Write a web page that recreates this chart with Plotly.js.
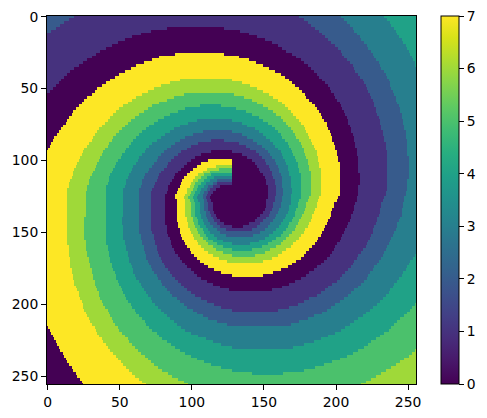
<!DOCTYPE html>
<html>
<head>
<meta charset="utf-8">
<script src="https://cdn.plot.ly/plotly-3.0.1.min.js"></script>
<style>html,body{margin:0;padding:0;background:#fff}#chart{width:487px;height:418px}</style>
</head>
<body>
<div id="chart"></div>
<script>
// Each row reads "value:endColumn" runs; the last run goes to the right edge.
const rowRuns = [
"2:19,1:175,2:204,3:234,4",
"2:15,1:178,2:206,3:236,4",
"2:12,1:181,2:208,3:238,4",
"2:9,1:183,2:210,3:239,4",
"2:6,1:83,0:123,1:186,2:212,3:241,4",
"2:3,1:72,0:134,1:189,2:213,3:242,4",
"1:65,0:140,1:191,2:215,3:243,4",
"1:59,0:146,1:193,2:217,3:244,4",
"1:54,0:151,1:195,2:218,3:246,4",
"1:49,0:156,1:197,2:220,3:247,4",
"1:45,0:160,1:200,2:222,3:249,4",
"1:41,0:163,1:202,2:223,3:250,4",
"1:37,0:166,1:204,2:225,3:251,4",
"1:34,0:89,7:123,0:170,1:205,2:226,3:252,4",
"1:31,0:78,7:133,0:173,1:206,2:227,3:253,4",
"1:28,0:73,7:140,0:176,1:208,2:228,3:254,4",
"1:25,0:67,7:145,0:178,1:210,2:230,3:255,4",
"1:22,0:62,7:150,0:181,1:212,2:231,3:255,4",
"1:19,0:58,7:154,0:183,1:213,2:232,3",
"1:16,0:54,7:158,0:185,1:214,2:234,3",
"1:14,0:50,7:162,0:187,1:216,2:235,3",
"1:12,0:47,7:165,0:189,1:217,2:236,3",
"1:10,0:44,7:92,6:128,7:168,0:191,1:219,2:237,3",
"1:8,0:41,7:85,6:135,7:170,0:193,1:220,2:238,3",
"1:6,0:38,7:79,6:141,7:172,0:195,1:221,2:238,3",
"1:4,0:35,7:74,6:146,7:175,0:196,1:222,2:239,3",
"1:2,0:33,7:70,6:150,7:177,0:197,1:223,2:240,3",
"0:31,7:66,6:95,5:130,6:154,7:179,0:199,1:224,2:241,3",
"0:28,7:62,6:88,5:137,6:157,7:180,0:200,1:225,2:242,3",
"0:26,7:59,6:83,5:142,6:160,7:182,0:201,1:226,2:242,3",
"0:24,7:56,6:78,5:146,6:163,7:184,0:203,1:227,2:243,3",
"0:22,7:53,6:73,5:106,4:121,5:150,6:165,7:186,0:204,1:227,2:244,3",
"0:20,7:50,6:70,5:96,4:131,5:153,6:167,7:187,0:205,1:228,2:245,3",
"0:18,7:48,6:67,5:91,4:138,5:157,6:169,7:189,0:206,1:228,2:245,3",
"0:17,7:46,6:64,5:85,4:142,5:159,6:171,7:190,0:207,1:229,2:246,3",
"0:15,7:44,6:61,5:81,4:147,5:162,6:173,7:191,0:208,1:230,2:246,3",
"0:14,7:42,6:58,5:77,4:104,3:128,4:150,5:164,6:175,7:192,0:209,1:231,2:247,3",
"0:13,7:40,6:56,5:74,4:98,3:135,4:153,5:166,6:176,7:194,0:209,1:231,2:247,3",
"0:11,7:38,6:54,5:71,4:92,3:139,4:156,5:167,6:178,7:194,0:210,1:232,2:248,3",
"0:10,7:36,6:52,5:69,4:88,3:144,4:158,5:169,6:179,7:195,0:211,1:232,2:248,3",
"0:8,7:35,6:50,5:66,4:85,3:108,2:128,3:147,4:160,5:171,6:180,7:196,0:211,1:233,2:249,3",
"0:7,7:33,6:48,5:64,4:82,3:101,2:135,3:150,4:162,5:172,6:181,7:197,0:212,1:233,2:249,3",
"0:5,7:32,6:46,5:62,4:79,3:96,2:139,3:152,4:163,5:173,6:182,7:198,0:213,1:234,2:249,3",
"0:4,7:31,6:45,5:60,4:76,3:92,2:114,1:123,2:143,3:155,4:165,5:175,6:183,7:198,0:213,1:234,2:250,3",
"0:3,7:29,6:43,5:58,4:73,3:89,2:105,1:133,2:146,3:157,4:167,5:176,6:184,7:199,0:214,1:235,2:250,3",
"0:2,7:28,6:42,5:57,4:71,3:86,2:100,1:138,2:149,3:158,4:168,5:177,6:185,7:200,0:214,1:235,2:250,3",
"0:1,7:26,6:40,5:55,4:69,3:83,2:97,1:141,2:151,3:160,4:169,5:178,6:186,7:200,0:215,1:235,2:250,3",
"7:25,6:39,5:54,4:68,3:81,2:93,1:114,0:128,1:145,2:153,3:162,4:170,5:178,6:187,7:201,0:215,1:236,2:250,3",
"7:24,6:38,5:52,4:66,3:79,2:91,1:107,0:135,1:147,2:155,3:163,4:171,5:179,6:187,7:201,0:215,1:236,2:250,3",
"7:23,6:37,5:51,4:64,3:77,2:88,1:103,0:139,1:149,2:156,3:164,4:172,5:180,6:188,7:202,0:216,1:236,2:251,3",
"7:22,6:36,5:49,4:63,3:76,2:86,1:100,0:112,7:128,0:142,1:151,2:158,3:165,4:173,5:181,6:188,7:202,0:216,1:236,2:251,3",
"7:21,6:35,5:48,4:62,3:74,2:84,1:97,0:107,7:128,0:144,1:152,2:159,3:166,4:174,5:181,6:189,7:203,0:216,1:236,2:251,3",
"7:20,6:34,5:47,4:60,3:73,2:83,1:95,0:104,7:117,6:128,0:146,1:154,2:160,3:167,4:174,5:182,6:189,7:203,0:216,1:236,2:251,3",
"7:19,6:33,5:46,4:59,3:71,2:81,1:93,0:101,7:111,6:119,5:128,0:147,1:155,2:161,3:167,4:175,5:182,6:190,7:203,0:216,1:236,2:251,3",
"7:18,6:32,5:45,4:58,3:70,2:79,1:91,0:99,7:108,6:113,5:128,0:148,1:156,2:161,3:168,4:175,5:183,6:190,7:203,0:216,1:236,2:251,3",
"7:18,6:31,5:44,4:57,3:68,2:78,1:89,0:97,7:105,6:109,5:114,4:128,0:150,1:156,2:162,3:168,4:176,5:183,6:190,7:203,0:217,1:236,2:251,3",
"7:17,6:30,5:43,4:56,3:67,2:77,1:88,0:95,7:103,6:107,5:111,4:116,3:128,0:151,1:157,2:163,3:169,4:176,5:183,6:190,7:203,0:217,1:236,2:251,3",
"7:16,6:29,5:43,4:55,3:66,2:76,1:87,0:94,7:101,6:105,5:109,4:113,3:118,2:128,0:152,1:158,2:163,3:169,4:176,5:183,6:190,7:203,0:217,1:236,2:250,3",
"7:15,6:29,5:42,4:55,3:66,2:75,1:85,0:93,7:100,6:103,5:107,4:110,3:115,2:118,1:128,0:152,1:158,2:163,3:169,4:176,5:183,6:190,7:203,0:217,1:236,2:250,3",
"7:15,6:28,5:41,4:54,3:65,2:74,1:84,0:92,7:99,6:102,5:105,4:109,3:112,2:115,1:120,0:153,1:159,2:163,3:169,4:176,5:183,6:190,7:203,0:216,1:236,2:250,3",
"7:14,6:28,5:41,4:53,3:64,2:73,1:84,0:91,7:97,6:101,5:104,4:107,3:111,2:113,1:117,0:153,1:159,2:164,3:170,4:176,5:183,6:190,7:203,0:216,1:236,2:250,3",
"7:14,6:27,5:41,4:53,3:64,2:72,1:83,0:90,7:97,6:100,5:103,4:106,3:109,2:112,1:115,0:153,1:159,2:164,3:170,4:176,5:183,6:190,7:203,0:216,1:235,2:249,3",
"7:14,6:27,5:41,4:53,3:64,2:72,1:82,0:89,7:96,6:99,5:102,4:105,3:108,2:111,1:114,0:153,1:159,2:164,3:169,4:176,5:183,6:190,7:203,0:216,1:235,2:249,3",
"7:14,6:27,5:41,4:53,3:64,2:72,1:82,0:89,7:95,6:98,5:101,4:104,3:108,2:110,1:113,0:153,1:158,2:163,3:169,4:176,5:182,6:189,7:202,0:215,1:234,2:248,3",
"7:14,6:27,5:41,4:53,3:64,2:72,1:82,0:90,7:96,6:99,5:102,4:105,3:109,2:111,1:114,0:152,1:158,2:163,3:169,4:175,5:181,6:188,7:201,0:215,1:233,2:248,3",
"7:14,6:27,5:41,4:53,3:64,2:72,1:82,0:90,7:96,6:100,5:103,4:106,3:109,2:112,1:115,0:152,1:157,2:162,3:169,4:174,5:180,6:187,7:199,0:214,1:232,2:247,3",
"7:14,6:27,5:41,4:53,3:64,2:72,1:82,0:90,7:96,6:100,5:103,4:106,3:109,2:112,1:115,0:152,1:157,2:162,3:168,4:174,5:180,6:187,7:199,0:213,1:232,2:247,3",
"7:14,6:27,5:41,4:53,3:64,2:72,1:82,0:90,7:96,6:100,5:103,4:106,3:109,2:112,1:115,0:151,1:156,2:161,3:168,4:173,5:179,6:186,7:198,0:213,1:231,2:246,3",
"7:14,6:27,5:41,4:53,3:64,2:72,1:82,0:90,7:96,6:100,5:103,4:106,3:110,2:113,1:116,0:150,1:155,2:160,3:167,4:172,5:178,6:185,7:197,0:212,1:231,2:246,3",
"7:14,6:27,5:41,4:53,3:64,2:72,1:82,0:90,7:96,6:100,5:103,4:107,3:110,2:114,1:117,0:148,1:154,2:159,3:166,4:172,5:177,6:184,7:197,0:211,1:230,2:246,3",
"7:14,6:26,5:41,4:52,3:64,2:72,1:82,0:90,7:97,6:101,5:104,4:107,3:111,2:115,1:118,0:146,1:152,2:158,3:165,4:171,5:176,6:184,7:196,0:211,1:229,2:245,3",
"7:14,6:26,5:41,4:52,3:64,2:72,1:82,0:90,7:97,6:101,5:105,4:108,3:112,2:116,1:120,0:144,1:150,2:157,3:164,4:170,5:175,6:183,7:195,0:210,1:229,2:244,3",
"7:14,6:26,5:41,4:52,3:64,2:72,1:82,0:91,7:98,6:102,5:105,4:109,3:113,2:118,1:123,0:140,1:148,2:155,3:162,4:168,5:174,6:182,7:194,0:209,1:228,2:243,3",
"7:14,6:26,5:41,4:53,3:64,2:72,1:83,0:91,7:98,6:103,5:106,4:110,3:115,2:120,1:128,0:136,1:146,2:153,3:161,4:167,5:173,6:181,7:193,0:208,1:227,2:243,3",
"7:14,6:26,5:41,4:53,3:64,2:72,1:83,0:92,7:99,6:104,5:108,4:112,3:118,2:124,1:142,2:151,3:159,4:166,5:172,6:179,7:192,0:207,1:226,2:242,3",
"7:14,6:26,5:41,4:53,3:64,2:73,1:83,0:92,7:100,6:105,5:109,4:113,3:120,2:148,3:157,4:164,5:170,6:178,7:191,0:206,1:226,2:241,3",
"7:14,6:26,5:41,4:53,3:65,2:74,1:84,0:93,7:101,6:106,5:110,4:116,3:124,2:143,3:154,4:162,5:168,6:176,7:190,0:205,1:225,2:240,3",
"7:14,6:26,5:41,4:53,3:65,2:74,1:85,0:94,7:102,6:108,5:112,4:118,3:151,4:159,5:166,6:175,7:188,0:204,1:224,2:239,3",
"7:14,6:27,5:41,4:54,3:66,2:75,1:86,0:95,7:104,6:110,5:115,4:122,3:147,4:156,5:164,6:173,7:187,0:203,1:223,2:238,3",
"7:14,6:27,5:41,4:54,3:66,2:75,1:86,0:96,7:105,6:112,5:118,4:128,3:141,4:153,5:162,6:171,7:186,0:201,1:222,2:237,3",
"7:15,6:27,5:42,4:55,3:67,2:76,1:87,0:97,7:107,6:115,5:122,4:149,5:159,6:169,7:184,0:200,1:221,2:236,3",
"7:15,6:27,5:42,4:55,3:67,2:76,1:88,0:99,7:109,6:117,5:128,4:142,5:155,6:166,7:182,0:199,1:219,2:235,3",
"7:15,6:28,5:43,4:56,3:68,2:77,1:89,0:100,7:112,6:122,5:151,6:163,7:180,0:198,1:218,2:234,3",
"7:15,6:28,5:43,4:56,3:69,2:78,1:91,0:102,7:115,6:128,5:144,6:160,7:178,0:196,1:216,2:233,3:255,4",
"7:16,6:29,5:44,4:57,3:69,2:79,1:92,0:104,7:119,6:156,7:176,0:194,1:215,2:232,3:254,4",
"7:16,6:29,5:44,4:57,3:70,2:80,1:94,0:106,7:125,6:150,7:173,0:192,1:213,2:230,3:252,4",
"7:16,6:30,5:45,4:58,3:71,2:81,1:96,0:109,7:170,0:190,1:212,2:229,3:251,4",
"7:16,6:30,5:45,4:59,3:72,2:82,1:97,0:112,7:167,0:187,1:211,2:227,3:250,4",
"7:17,6:31,5:46,4:60,3:73,2:84,1:100,0:116,7:162,0:185,1:209,2:226,3:249,4",
"7:17,6:31,5:47,4:60,3:74,2:85,1:102,0:121,7:157,0:182,1:207,2:224,3:247,4",
"7:18,6:32,5:48,4:61,3:76,2:87,1:104,0:128,7:150,0:180,1:205,2:223,3:246,4",
"7:18,6:32,5:48,4:62,3:77,2:89,1:107,0:176,1:203,2:222,3:244,4",
"7:19,6:33,5:49,4:64,3:79,2:91,1:111,0:172,1:201,2:220,3:243,4",
"7:19,6:33,5:50,4:65,3:80,2:93,1:115,0:168,1:198,2:218,3:241,4",
"7:20,6:34,5:51,4:66,3:82,2:95,1:120,0:163,1:195,2:216,3:240,4",
"7:21,6:35,5:52,4:67,3:83,2:97,1:126,0:156,1:193,2:213,3:238,4",
"7:22,6:36,5:53,4:69,3:85,2:100,1:190,2:211,3:237,4",
"7:22,6:36,5:54,4:70,3:87,2:103,1:187,2:209,3:235,4",
"7:23,6:37,5:55,4:72,3:90,2:107,1:182,2:206,3:233,4",
"7:24,6:38,5:56,4:73,3:92,2:111,1:178,2:203,3:231,4",
"7:25,6:39,5:58,4:75,3:95,2:116,1:174,2:200,3:229,4:255,5",
"7:25,6:40,5:59,4:77,3:97,2:121,1:168,2:197,3:226,4:253,5",
"7:26,6:42,5:61,4:79,3:101,2:128,1:160,2:194,3:224,4:252,5",
"7:27,6:43,5:62,4:81,3:104,2:191,3:221,4:250,5",
"7:28,6:44,5:64,4:83,3:108,2:185,3:219,4:248,5",
"7:29,6:45,5:66,4:85,3:112,2:181,3:216,4:245,5",
"7:30,6:46,5:68,4:88,3:118,2:175,3:213,4:243,5",
"7:31,6:47,5:69,4:90,3:125,2:169,3:210,4:241,5",
"0:1,7:33,6:49,5:71,4:93,3:207,4:239,5",
"0:2,7:34,6:50,5:73,4:96,3:204,4:237,5",
"0:3,7:35,6:52,5:76,4:100,3:200,4:234,5",
"0:4,7:36,6:54,5:78,4:105,3:195,4:231,5",
"0:5,7:38,6:56,5:80,4:110,3:190,4:228,5",
"0:6,7:39,6:57,5:83,4:115,3:185,4:225,5",
"0:7,7:41,6:59,5:86,4:121,3:178,4:223,5",
"0:8,7:42,6:61,5:89,4:128,3:171,4:220,5",
"0:9,7:44,6:63,5:92,4:216,5:255,6",
"0:11,7:46,6:65,5:96,4:212,5:253,6",
"0:12,7:48,6:68,5:100,4:208,5:251,6",
"0:13,7:49,6:70,5:104,4:203,5:248,6",
"0:14,7:51,6:72,5:109,4:198,5:245,6",
"0:15,7:53,6:74,5:114,4:192,5:242,6",
"0:17,7:55,6:77,5:121,4:186,5:239,6",
"0:18,7:57,6:80,5:128,4:178,5:235,6",
"0:20,7:59,6:84,5:142,4:164,5:232,6",
"0:21,7:61,6:87,5:228,6",
"0:23,7:64,6:91,5:225,6",
"0:24,7:66,6:95,5:221,6",
"0:25,7:69,6:98,5:218,6"
];
const axisTicks = [0, 50, 100, 150, 200, 250];
const colorbarTicks = [0, 1, 2, 3, 4, 5, 6, 7];
const columnCount = 256;
const rowStep = 2;

// Unpack the typed runs into heatmap rows.
const z = rowRuns.map(function (row) {
  const cells = [];
  row.split(",").forEach(function (run) {
    const parts = run.split(":");
    const end = parts.length > 1 ? Number(parts[1]) : columnCount;
    while (cells.length < end) cells.push(Number(parts[0]));
  });
  return cells;
});

const tickFont = {family: "DejaVu Sans", size: 13.9, color: "#000"};
const axisStyle = {
  tickmode: "array", tickvals: axisTicks, ticks: "outside", ticklen: 5, tickwidth: 1,
  tickcolor: "#000", showline: true, mirror: true, linecolor: "#000", linewidth: 1,
  showgrid: false, zeroline: false, tickfont: tickFont
};

Plotly.newPlot("chart", [{
  type: "heatmap",
  z: z,
  x0: 0, dx: 1,
  y0: 0, dy: rowStep,
  zmin: 0, zmax: 7,
  colorscale: "Viridis",
  colorbar: {
    x: 1.0665, xanchor: "left", xpad: 0, y: 0.5, yanchor: "middle", ypad: 0,
    len: 1, thickness: 18, outlinewidth: 1, outlinecolor: "#000",
    tickmode: "array", tickvals: colorbarTicks, ticks: "outside", ticklen: 5,
    tickwidth: 1, tickcolor: "#000", tickfont: tickFont
  }
}], {
  width: 487, height: 418,
  margin: {l: 47, r: 71, t: 16, b: 34, pad: 0, autoexpand: false},
  paper_bgcolor: "#fff", plot_bgcolor: "#fff",
  xaxis: Object.assign({range: [-0.5, 255.5]}, axisStyle),
  yaxis: Object.assign({range: [255.5, -0.5]}, axisStyle)
}, {displayModeBar: false, responsive: false});
</script>
</body>
</html>
